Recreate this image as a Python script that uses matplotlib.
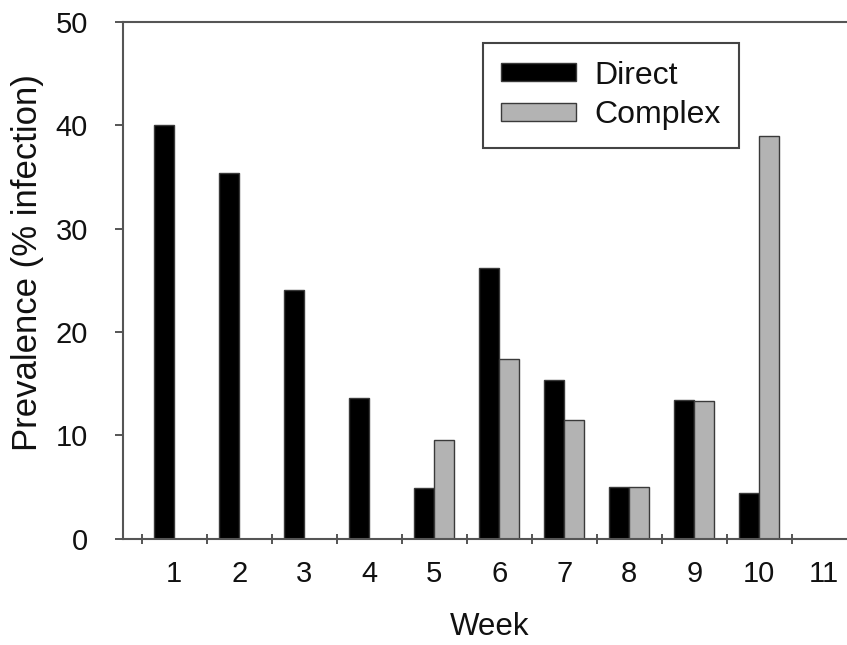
import matplotlib
matplotlib.use("Agg")
import matplotlib.pyplot as plt
import numpy as np

weeks = [1, 2, 3, 4, 5, 6, 7, 8, 9, 10, 11]
week_labels = ["1", "2", "3", "4", "5", "6", "7", "8", "9", "10", "11"]
direct = [40.0, 35.4, 24.1, 13.6, 4.9, 26.2, 15.3, 5.0, 13.4, 4.4, np.nan]
complex_ = [0.0, 0.0, 0.0, 0.0, 9.5, 17.4, 11.5, 5.0, 13.3, 39.0, np.nan]
y_ticks = [0, 10, 20, 30, 40, 50]

plt.rcParams['font.family'] = ['Liberation Sans', 'DejaVu Sans']

W, H, DPI = 847, 645, 100
fig = plt.figure(figsize=(W / DPI, H / DPI), dpi=DPI)
ax = fig.add_axes([123 / W, 1 - 538.5 / H, 1 - 123 / W, (538.5 - 22) / H])

x = np.array(weeks, dtype=float)
bw = 0.31
edge = "#3a3a3a"
ax.bar(x - bw / 2, direct, width=bw, color="black", edgecolor=edge, linewidth=1.0, label="Direct")
ax.bar(x + bw / 2, complex_, width=bw, color="#b3b3b3", edgecolor=edge, linewidth=1.0, label="Complex")

ax.set_xlim(0.2123, 11.35)
ax.set_ylim(0, 50)

spine_c = "#555555"
for s in ["left", "bottom", "top"]:
    ax.spines[s].set_color(spine_c)
    ax.spines[s].set_linewidth(1.5)
ax.spines["right"].set_visible(False)

ax.set_yticks(y_ticks)
ax.tick_params(axis="y", direction="out", length=5.8, width=1.4, color=spine_c,
               labelsize=21, pad=19.5, labelcolor="#111111")
ax.set_xticks(x)
ax.set_xticklabels(week_labels)
ax.set_xticks(np.arange(0.5, 11, 1.0), minor=True)
ax.tick_params(axis="x", which="major", length=0, labelsize=21, pad=15.5, labelcolor="#111111")
ax.tick_params(axis="x", which="minor", direction="inout", length=7.2, width=1.4, color=spine_c)
ax.tick_params(top=False, right=False, which="both")

ax.set_xlabel("Week", fontsize=22.5, color="#111111")
ax.xaxis.set_label_coords(0.507, (538.5 - 627) / 516.5)
ax.xaxis.label.set_verticalalignment("center")
ax.set_ylabel("Prevalence (% infection)", fontsize=25, color="#111111")
ax.yaxis.set_label_coords((28 - 123) / 724, (538.5 - 262.5) / 516.5)
ax.yaxis.label.set_verticalalignment("center")

leg = fig.legend(loc="upper left", bbox_to_anchor=(483 / W, 1 - 43 / H),
                 fontsize=23, frameon=True, fancybox=False, framealpha=1,
                 edgecolor="#444444", handlelength=2.35, handleheight=0.5,
                 handletextpad=0.6, borderpad=0.55, labelspacing=0.3,
                 borderaxespad=0)
leg.get_frame().set_linewidth(1.5)
for t in leg.get_texts():
    t.set_color("#111111")

fig.savefig("out.png", dpi=DPI)
